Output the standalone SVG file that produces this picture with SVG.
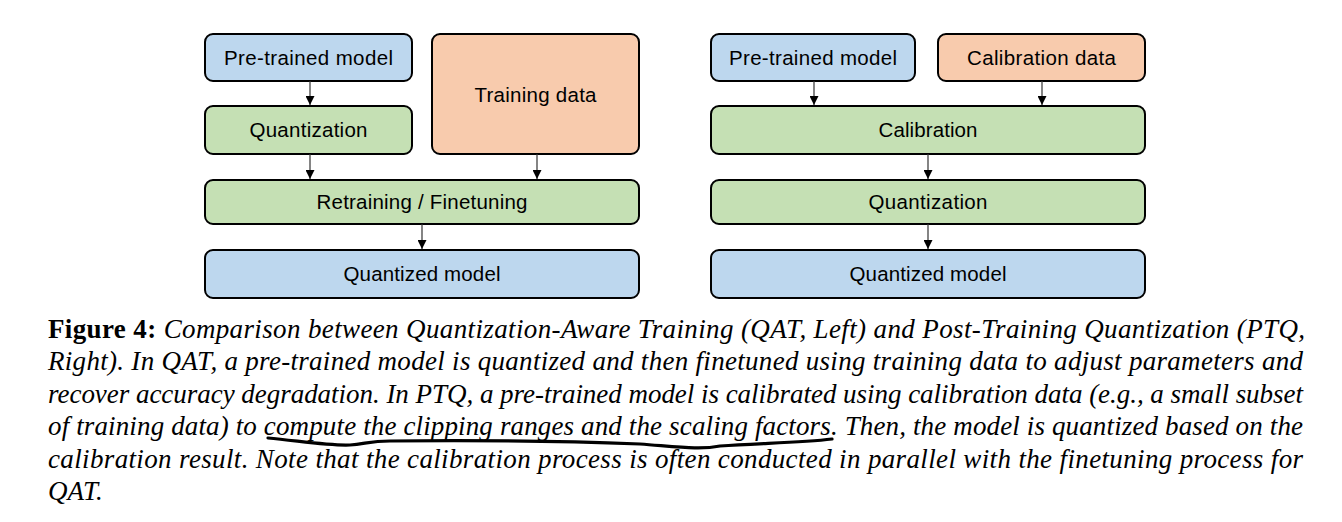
<svg xmlns="http://www.w3.org/2000/svg" width="1342" height="522" viewBox="0 0 1342 522">
<style>
.box{stroke:#000;stroke-width:2;}
.blue{fill:#BDD7EE;}
.green{fill:#C5E0B4;}
.orange{fill:#F8CBAD;}
.lbl{font-family:"Liberation Sans",Arial,sans-serif;font-size:20.5px;fill:#000;text-anchor:middle;}
.conn{stroke:#333;stroke-width:1.2;fill:none;marker-end:url(#ah);}
.cap{font-family:"Liberation Serif","Times New Roman",serif;font-size:27px;font-style:italic;fill:#000;}
.fig{font-style:normal;font-weight:bold;}
</style>
<defs>
<marker id="ah" viewBox="0 0 10 10" refX="10" refY="5" markerWidth="9" markerHeight="9" markerUnits="userSpaceOnUse" orient="auto">
<path d="M0,0 L10,5 L0,10 z" fill="#000"/>
</marker>
</defs>
<rect width="1342" height="522" fill="#fff"/>
<g id="qat-pretrained"><rect class="box blue" x="205" y="34" width="207" height="47" rx="8"/><text class="lbl" x="308.5" y="65" textLength="169">Pre-trained model</text></g>
<g id="qat-training-data"><rect class="box orange" x="432" y="34" width="207" height="120" rx="8"/><text class="lbl" x="535.5" y="102" textLength="122">Training data</text></g>
<g id="qat-quantization"><rect class="box green" x="205" y="106" width="207" height="48" rx="8"/><text class="lbl" x="308.5" y="137" textLength="118">Quantization</text></g>
<g id="qat-retraining"><rect class="box green" x="205" y="180" width="434" height="44" rx="8"/><text class="lbl" x="422" y="209" textLength="211">Retraining / Finetuning</text></g>
<g id="qat-quantized"><rect class="box blue" x="205" y="250" width="434" height="48" rx="8"/><text class="lbl" x="422" y="281" textLength="157">Quantized model</text></g>
<g id="ptq-pretrained"><rect class="box blue" x="711" y="34" width="204" height="47" rx="8"/><text class="lbl" x="813" y="65" textLength="168">Pre-trained model</text></g>
<g id="ptq-calib-data"><rect class="box orange" x="938" y="34" width="207" height="47" rx="8"/><text class="lbl" x="1041.5" y="65" textLength="149">Calibration data</text></g>
<g id="ptq-calibration"><rect class="box green" x="711" y="106" width="434" height="48" rx="8"/><text class="lbl" x="928" y="137" textLength="99">Calibration</text></g>
<g id="ptq-quantization"><rect class="box green" x="711" y="180" width="434" height="44" rx="8"/><text class="lbl" x="928" y="209" textLength="119">Quantization</text></g>
<g id="ptq-quantized"><rect class="box blue" x="711" y="250" width="434" height="48" rx="8"/><text class="lbl" x="928" y="281" textLength="157">Quantized model</text></g>
<g id="connectors">
<line class="conn" x1="310" y1="81" x2="310" y2="105"/>
<line class="conn" x1="310" y1="154" x2="310" y2="179"/>
<line class="conn" x1="537" y1="154" x2="537" y2="179"/>
<line class="conn" x1="422" y1="224" x2="422" y2="249"/>
<line class="conn" x1="814" y1="81" x2="814" y2="105"/>
<line class="conn" x1="1042" y1="81" x2="1042" y2="105"/>
<line class="conn" x1="928" y1="154" x2="928" y2="179"/>
<line class="conn" x1="928" y1="224" x2="928" y2="249"/>
</g>
<g id="caption">
<text class="cap" x="48" y="338" textLength="1257" lengthAdjust="spacing"><tspan class="fig">Figure 4:</tspan> Comparison between Quantization-Aware Training (QAT, Left) and Post-Training Quantization (PTQ,</text>
<text class="cap" x="48" y="370" textLength="1255" lengthAdjust="spacing">Right). In QAT, a pre-trained model is quantized and then finetuned using training data to adjust parameters and</text>
<text class="cap" x="48" y="403" textLength="1255" lengthAdjust="spacing">recover accuracy degradation. In PTQ, a pre-trained model is calibrated using calibration data (e.g., a small subset</text>
<text class="cap" x="48" y="435" textLength="1255" lengthAdjust="spacing">of training data) to compute the clipping ranges and the scaling factors. Then, the model is quantized based on the</text>
<text class="cap" x="48" y="468" textLength="1255" lengthAdjust="spacing">calibration result. Note that the calibration process is often conducted in parallel with the finetuning process for</text>
<text class="cap" x="48" y="500">QAT.</text>
<path d="M268,438 C300,441 330,446 350,445 C365,444 370,441 390,441 C480,440 560,441 640,444 C680,447 700,450 720,446 C760,443 800,443 832,439" fill="none" stroke="#000" stroke-width="3.2" stroke-linecap="round"/>
</g>
</svg>
